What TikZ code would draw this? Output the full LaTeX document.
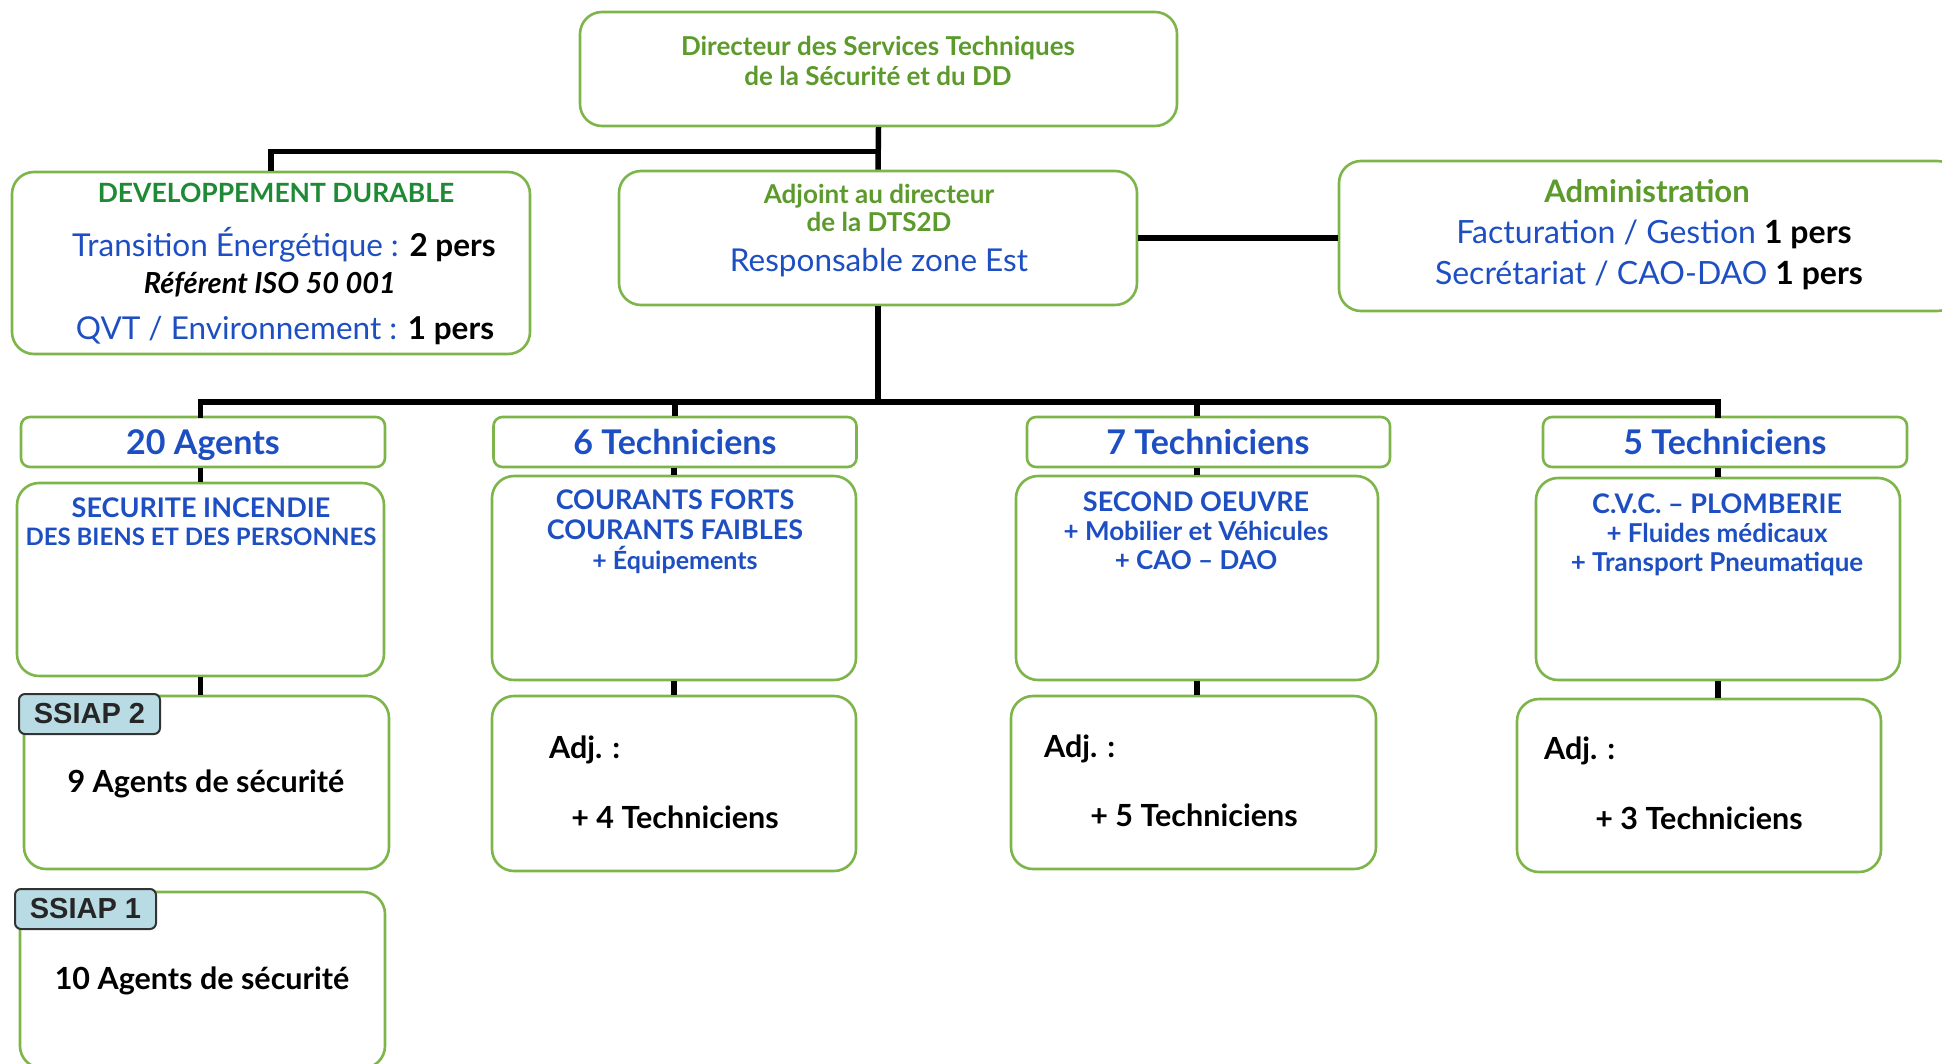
\documentclass[tikz,border=0pt]{standalone}
\usepackage{fontspec}
\setmainfont{Lato}
\newfontfamily\tagfont{Liberation Sans}
\definecolor{boxgreen}{HTML}{7DB54A}
\definecolor{titlegreen}{HTML}{5C9A2C}
\definecolor{ddgreen}{HTML}{1F8A35}
\definecolor{tblue}{HTML}{1E4FC2}
\definecolor{tagfill}{HTML}{B9DCE4}
\newcommand{\fs}[1]{\fontsize{#1}{#1}\selectfont}
\tikzset{
  box/.style={draw=boxgreen, line width=2.6pt, rounded corners=22pt, fill=white, inner sep=0pt},
  headbox/.style={draw=boxgreen, line width=2.6pt, rounded corners=9pt, fill=white, inner sep=0pt},
  tagbox/.style={draw=black!80, line width=2pt, rounded corners=6pt, fill=tagfill, inner sep=0pt,
    font=\tagfont\bfseries\fs{29}, text=black!85},
  conn/.style={draw=black, line width=5.5pt},
  txt/.style={inner sep=0pt, anchor=base},
}
\begin{document}
\begin{tikzpicture}[x=1pt,y=-1pt]
\useasboundingbox (0,0) rectangle (1942,1063);
\begin{scope}
\clip (0,0) rectangle (1942,1063);

\coordinate (bus) at (878,402);

% --- boxes ---
\node[box, minimum width=597pt, minimum height=114pt] (top) at (878.5,69) {};
\node[box, minimum width=518pt, minimum height=182pt] (dd) at (271,263) {};
\node[box, minimum width=518pt, minimum height=134pt] (adj) at (878,238) {};
\node[box, minimum width=620pt, minimum height=150pt] (admin) at (1649,236) {};

\node[headbox, minimum width=364pt, minimum height=50pt] (h1) at (203,442) {};
\node[headbox, minimum width=363pt, minimum height=50pt] (h2) at (675,442) {};
\node[headbox, minimum width=363pt, minimum height=50pt] (h3) at (1208.5,442) {};
\node[headbox, minimum width=364pt, minimum height=50pt] (h4) at (1725,442) {};

\node[box, minimum width=367pt, minimum height=193pt] (s1) at (200.5,579.5) {};
\node[box, minimum width=364pt, minimum height=204pt] (s2) at (674,578) {};
\node[box, minimum width=362pt, minimum height=204pt] (s3) at (1197,578) {};
\node[box, minimum width=364pt, minimum height=202pt] (s4) at (1718,579) {};

\node[box, minimum width=365pt, minimum height=173pt] (b1) at (206.5,782.5) {};
\node[box, minimum width=364pt, minimum height=175pt] (b2) at (674,783.5) {};
\node[box, minimum width=365pt, minimum height=173pt] (b3) at (1193.5,782.5) {};
\node[box, minimum width=364pt, minimum height=173pt] (b4) at (1699,785.5) {};
\node[box, minimum width=365pt, minimum height=176pt] (b5) at (202.5,980) {};

% --- connectors ---
\draw[conn] (top.south) -- ++(0,24) -| (dd.north);
\draw[conn] (top.south) -- (adj.north);
\draw[conn] (adj.east) -- (adj.east -| admin.west);
\draw[conn] (adj.south) -- (bus);
\draw[conn, line cap=rect] (bus) -| (h1.north -| s1.north);
\draw[conn] (bus) -| (h2.north);
\draw[conn] (bus) -| (h3.north -| s3.north);
\draw[conn, line cap=rect] (bus) -| (h4.north -| s4.north);
\foreach \h/\s in {h1/s1,h2/s2,h3/s3,h4/s4}
  \draw[conn] (\h.south -| \s.north) -- (\s.north);
\draw[conn] (s1.south) -- (s1.south |- b1.north);
\draw[conn] (s2.south) -- (s2.south |- b2.north);
\draw[conn] (s3.south) -- (s3.south |- b3.north);
\draw[conn] (s4.south) -- (s4.south |- b4.north);
\draw[conn] (b1.south -| 198,0) -- (b1.south -| 198,0 |- b5.north);

% --- tags ---
\node[tagbox, minimum width=141pt, minimum height=40pt] (tag2) at (89.5,714) {SSIAP 2};
\node[tagbox, minimum width=141pt, minimum height=40pt] (tag1) at (85.5,909) {SSIAP 1};

% --- texts: top ---
\begin{scope}[every node/.style={txt, text=titlegreen, font=\bfseries\fs{26}}]
\node (t1) at (878,55) {Directeur des Services Techniques};
\node (t2) at (878,85) {de la Sécurité et du DD};
\node (a1) at (879,203) {Adjoint au directeur};
\node (a2) at (879,231) {de la DTS2D};
\end{scope}
\node[txt, text=titlegreen, font=\bfseries\fs{31}] (ad1) at (1647,202) {Administration};
\node[txt, text=ddgreen, font=\bfseries\fs{26.5}] (d1) at (276,202) {DEVELOPPEMENT DURABLE};

\node[txt, text=tblue, font=\fs{31.5}] (a3) at (879,271) {Responsable zone Est};

\begin{scope}[every node/.style={txt, font=\fs{31.5}}]
\node (d2) at (284,256) {\textcolor{tblue}{Transition Énergétique :} \textbf{2 pers}};
\node (d4) at (285,339) {\textcolor{tblue}{QVT / Environnement :} \textbf{1 pers}};
\node[font=\fs{32}] (ad2) at (1654,243) {\textcolor{tblue}{Facturation / Gestion} \textbf{1 pers}};
\node[font=\fs{32}] (ad3) at (1649,284) {\textcolor{tblue}{Secrétariat / CAO-DAO} \textbf{1 pers}};
\end{scope}
\node[txt, font=\bfseries\itshape\fs{29}] (d3) at (270,293) {Référent ISO 50 001};

% --- headers ---
\begin{scope}[every node/.style={txt, text=tblue, font=\bfseries\fs{34}}]
\node at (203,454) {20 Agents};
\node at (675,454) {6 Techniciens};
\node at (1208,454) {7 Techniciens};
\node at (1725,454) {5 Techniciens};
\end{scope}

% --- service titles ---
\begin{scope}[every node/.style={txt, text=tblue, font=\bfseries\fs{27}}]
\node (s1a) at (201,517) {SECURITE INCENDIE};
\node[font=\bfseries\fs{24}] (s1b) at (201,545) {DES BIENS ET DES PERSONNES};
\node (s2a) at (675,509) {COURANTS FORTS};
\node (s2b) at (675,539) {COURANTS FAIBLES};
\node[font=\bfseries\fs{25}] (s2c) at (675,569) {+ Équipements};
\node (s3a) at (1196,511) {SECOND OEUVRE};
\node[font=\bfseries\fs{26}] (s3b) at (1196,540) {+ Mobilier et Véhicules};
\node[font=\bfseries\fs{26}] (s3c) at (1196,569) {+ CAO -- DAO};
\node (s4a) at (1717,513) {C.V.C. -- PLOMBERIE};
\node[font=\bfseries\fs{26}] (s4b) at (1717,542) {+ Fluides médicaux};
\node[font=\bfseries\fs{26}] (s4c) at (1717,571) {+ Transport Pneumatique};
\end{scope}

% --- bottom boxes ---
\begin{scope}[every node/.style={txt, text=black, font=\bfseries\fs{30.5}}]
\node (g2) at (206,792) {9 Agents de sécurité};
\node (g1) at (202,989) {10 Agents de sécurité};
\node[anchor=base west] (j2) at (549,758) {Adj. :};
\node[anchor=base west] (j3) at (1044,757) {Adj. :};
\node[anchor=base west] (j4) at (1544,759) {Adj. :};
\node (k2) at (675,828) {+ 4 Techniciens};
\node (k3) at (1194,826) {+ 5 Techniciens};
\node (k4) at (1699,829) {+ 3 Techniciens};
\end{scope}
\end{scope}
\end{tikzpicture}
\end{document}
